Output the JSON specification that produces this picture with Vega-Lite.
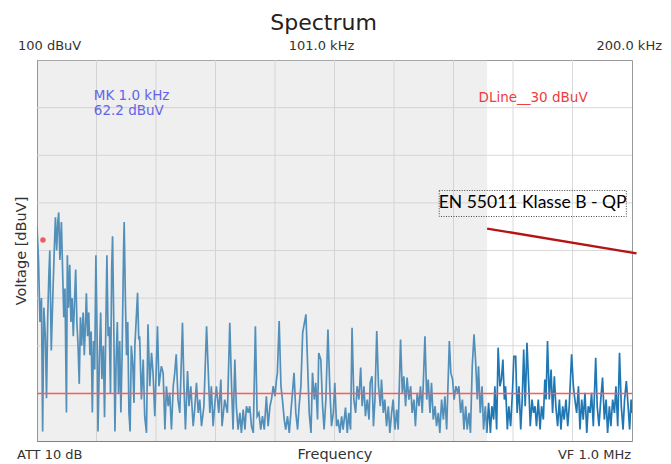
{
  "$schema": "https://vega.github.io/schema/vega-lite/v6.json",
  "width": 595,
  "height": 381,
  "autosize": {"type": "none"},
  "padding": {"left": 37, "top": 60, "right": 39, "bottom": 23},
  "background": "white",
  "config": {
    "view": {"stroke": "#9a9a9a", "strokeWidth": 1},
    "font": "DejaVu Sans"
  },
  "title": {
    "text": "Spectrum",
    "font": "DejaVu Sans",
    "fontSize": 22,
    "fontWeight": "normal",
    "color": "#222222",
    "anchor": "middle",
    "dx": -11,
    "dy": 22,
    "baseline": "alphabetic",
    "offset": 10
  },
  "datasets": {
    "trace": [
      {"f":1.0,"v":65},{"f":1.5,"v":58},{"f":2.0,"v":45},{"f":2.5,"v":50},{"f":2.9,"v":22},{"f":3.3,"v":48},{"f":3.8,"v":42},{"f":4.2,"v":29},{"f":4.6,"v":46},{"f":5.0,"v":55},
      {"f":5.3,"v":60},{"f":5.8,"v":39},{"f":6.3,"v":50},{"f":6.8,"v":60},{"f":7.2,"v":67},{"f":7.6,"v":60},{"f":8.0,"v":66},{"f":8.3,"v":68},{"f":8.7,"v":58},{"f":9.2,"v":66},
      {"f":9.6,"v":56},{"f":10.0,"v":46},{"f":10.4,"v":52},{"f":10.9,"v":26},{"f":11.2,"v":59},{"f":11.6,"v":48},{"f":12.0,"v":57},{"f":12.4,"v":45},{"f":12.8,"v":50},{"f":13.2,"v":42},
      {"f":13.6,"v":49},{"f":14.0,"v":56},{"f":14.4,"v":45},{"f":14.8,"v":40},{"f":15.2,"v":32},{"f":15.6,"v":46},{"f":16.0,"v":40},{"f":16.5,"v":47},{"f":16.9,"v":38},{"f":17.3,"v":45},
      {"f":17.6,"v":51},{"f":18.0,"v":42},{"f":18.4,"v":47},{"f":18.8,"v":38},{"f":19.2,"v":43},{"f":19.6,"v":26},{"f":20.0,"v":41},{"f":20.4,"v":35},{"f":20.8,"v":59},{"f":21.2,"v":42},
      {"f":21.5,"v":22},{"f":22.0,"v":38},{"f":22.4,"v":47},{"f":22.8,"v":33},{"f":23.3,"v":40},{"f":23.7,"v":25},{"f":24.0,"v":38},{"f":24.5,"v":59},{"f":24.9,"v":42},{"f":25.3,"v":44},
      {"f":25.7,"v":30},{"f":26.1,"v":56},{"f":26.4,"v":63},{"f":26.8,"v":45},{"f":27.2,"v":22},{"f":27.6,"v":37},{"f":28.0,"v":45},{"f":28.4,"v":30},{"f":28.8,"v":41},{"f":29.2,"v":26},
      {"f":29.6,"v":38},{"f":30.1,"v":60},{"f":30.3,"v":66},{"f":30.7,"v":50},{"f":31.1,"v":38},{"f":31.5,"v":45},{"f":31.9,"v":26},{"f":32.3,"v":22},{"f":32.7,"v":40},{"f":33.2,"v":36},
      {"f":33.6,"v":28},
      {"f":33.9,"v":40},{"f":34.8,"v":51.1},{"f":35.2,"v":41.3},{"f":35.5,"v":42},{"f":36.1,"v":28.7},{"f":36.7,"v":37.1},{"f":37.2,"v":25.2},{"f":37.8,"v":21.7},{"f":38.3,"v":44.5},{"f":38.9,"v":31.5},
      {"f":39.5,"v":38.5},{"f":40.0,"v":34.3},{"f":40.6,"v":25.2},{"f":41.5,"v":44.1},{"f":42.0,"v":31.5},{"f":42.8,"v":35.7},{"f":43.4,"v":34.3},{"f":44.0,"v":22.4},{"f":44.5,"v":31.5},{"f":45.1,"v":27.3},
      {"f":45.6,"v":30.1},{"f":46.2,"v":22.4},{"f":46.8,"v":31.5},{"f":47.3,"v":34.3},{"f":47.8,"v":38.2},{"f":48.4,"v":28.7},{"f":49.0,"v":25.9},{"f":49.9,"v":44.8},{"f":50.4,"v":31.5},{"f":50.9,"v":22.4},
      {"f":51.6,"v":34.7},{"f":52.1,"v":27.3},{"f":52.7,"v":31.5},{"f":53.5,"v":23.1},{"f":54.0,"v":26.6},{"f":54.6,"v":32.2},{"f":55.2,"v":25.9},{"f":55.7,"v":28.7},{"f":56.3,"v":23.1},{"f":57.1,"v":27.3},
      {"f":58.0,"v":44.1},{"f":58.5,"v":35.7},{"f":59.1,"v":25.9},{"f":59.6,"v":31.5},{"f":60.2,"v":23.1},{"f":60.8,"v":28.0},{"f":61.3,"v":31.5},{"f":62.1,"v":25.9},{"f":62.8,"v":32.9},{"f":63.2,"v":23.1},
      {"f":64.1,"v":28.7},{"f":65.0,"v":25.9},{"f":65.8,"v":44.8},{"f":66.4,"v":31.5},{"f":66.9,"v":22.4},
      {"f":67.5,"v":37.1},{"f":68.0,"v":27.3},{"f":68.6,"v":22.4},{"f":69.2,"v":25.9},{"f":69.7,"v":21.7},{"f":70.3,"v":26.6},{"f":70.9,"v":22.4},{"f":71.4,"v":27.3},{"f":72.0,"v":25.9},{"f":72.5,"v":27.3},
      {"f":73.1,"v":23.1},{"f":73.7,"v":21.7},{"f":74.4,"v":44.1},{"f":75.0,"v":25.2},{"f":75.6,"v":25.9},{"f":76.2,"v":22.4},{"f":76.8,"v":25.2},{"f":77.4,"v":22.4},{"f":78.1,"v":29.4},{"f":78.7,"v":23.1},
      {"f":79.3,"v":27.3},{"f":79.8,"v":28.7},{"f":80.4,"v":31.5},{"f":81.0,"v":29.4},{"f":81.5,"v":32.9},{"f":81.8,"v":34.3},{"f":82.4,"v":45.2},{"f":83.0,"v":31.5},{"f":83.5,"v":28.7},{"f":84.1,"v":24.5},
      {"f":84.6,"v":22.4},{"f":85.2,"v":25.2},{"f":85.8,"v":21.7},{"f":86.5,"v":27.3},{"f":87.4,"v":34.3},{"f":88.0,"v":25.9},{"f":88.6,"v":22.4},{"f":89.1,"v":27.3},{"f":89.7,"v":31.5},{"f":90.3,"v":42.7},
      {"f":90.7,"v":44.1},{"f":91.4,"v":46.6},{"f":91.9,"v":37.1},{"f":92.5,"v":25.9},{"f":93.1,"v":21.7},{"f":93.6,"v":34.3},{"f":94.2,"v":28.7},{"f":94.7,"v":32.2},{"f":95.3,"v":24.5},{"f":95.7,"v":38.5},
      {"f":96.4,"v":37.1},{"f":97.0,"v":27.3},{"f":97.5,"v":22.4},{"f":98.1,"v":28.7},{"f":98.8,"v":43.4},{"f":99.4,"v":31.5},{"f":100.0,"v":23.1},{"f":100.6,"v":25.9},
      {"f":101.1,"v":32.2},{"f":101.7,"v":23.1},{"f":102.2,"v":24.5},{"f":102.8,"v":21.7},{"f":103.4,"v":25.2},{"f":103.9,"v":22.4},{"f":104.7,"v":27.0},{"f":105.3,"v":21.7},{"f":105.8,"v":25.9},{"f":106.4,"v":22.4},
      {"f":106.9,"v":43.8},{"f":107.5,"v":28.7},{"f":108.1,"v":25.9},{"f":108.6,"v":31.5},{"f":109.2,"v":28.7},{"f":109.8,"v":35.4},{"f":110.3,"v":27.3},{"f":110.9,"v":31.5},{"f":111.4,"v":25.2},{"f":112.0,"v":28.7},
      {"f":112.6,"v":24.5},{"f":113.0,"v":32.2},{"f":113.6,"v":33.6},{"f":114.1,"v":23.1},{"f":114.6,"v":28.7},{"f":115.2,"v":43.1},{"f":115.8,"v":31.5},{"f":116.4,"v":27.3},{"f":116.8,"v":32.9},{"f":117.4,"v":25.9},
      {"f":117.9,"v":28.7},{"f":118.5,"v":23.1},{"f":119.1,"v":27.3},{"f":119.6,"v":21.7},{"f":120.2,"v":25.9},{"f":120.7,"v":28.7},{"f":121.3,"v":22.4},{"f":121.9,"v":26.6},{"f":122.4,"v":22.4},{"f":123.2,"v":41.3},
      {"f":123.8,"v":30.1},{"f":124.3,"v":33.6},{"f":124.9,"v":27.3},{"f":125.4,"v":33.3},{"f":126.0,"v":28.7},{"f":126.6,"v":31.5},{"f":127.1,"v":25.9},{"f":127.7,"v":28.7},{"f":128.2,"v":23.1},{"f":128.8,"v":30.1},
      {"f":129.4,"v":27.3},{"f":129.9,"v":31.5},{"f":130.5,"v":25.9},{"f":131.4,"v":42.0},{"f":132.0,"v":28.7},{"f":132.5,"v":32.9},{"f":133.1,"v":25.9},{"f":133.6,"v":32.2},{"f":134.2,"v":24.5},
      {"f":134.8,"v":27.3},{"f":135.3,"v":23.1},{"f":135.9,"v":25.9},{"f":136.4,"v":21.7},{"f":137.0,"v":28.7},{"f":137.6,"v":24.5},{"f":138.1,"v":29.4},{"f":138.7,"v":22.4},{"f":139.6,"v":41.0},{"f":140.1,"v":34.3},
      {"f":140.7,"v":32.9},{"f":141.2,"v":28.7},{"f":141.8,"v":31.5},{"f":142.4,"v":30.1},{"f":142.8,"v":31.5},{"f":143.4,"v":25.9},{"f":144.0,"v":28.7},{"f":144.5,"v":22.4},{"f":145.1,"v":27.3},{"f":145.6,"v":22.4},
      {"f":146.2,"v":25.9},{"f":146.7,"v":21.7},{"f":147.3,"v":35.7},{"f":147.9,"v":42.4},{"f":148.4,"v":37.1},{"f":149.0,"v":28.7},{"f":149.4,"v":35.7},{"f":150.0,"v":25.9},{"f":150.6,"v":31.5},{"f":151.1,"v":22.4},
      {"f":151.7,"v":27.3},{"f":152.2,"v":21.7},{"f":152.8,"v":28.0},{"f":153.4,"v":21.7},{"f":153.9,"v":27.3},{"f":154.5,"v":24.5},{"f":154.9,"v":31.5},{"f":155.5,"v":22.4},{"f":156.0,"v":39.6},{"f":156.6,"v":31.5},
      {"f":157.1,"v":32.9},{"f":157.6,"v":37.1},{"f":158.1,"v":28.7},{"f":158.5,"v":31.5},{"f":159.1,"v":22.4},{"f":159.6,"v":27.3},{"f":160.2,"v":23.1},{"f":160.8,"v":30.1},{"f":161.3,"v":37.8},{"f":161.9,"v":37.8},
      {"f":162.4,"v":25.9},{"f":163.0,"v":31.5},{"f":163.6,"v":22.4},{"f":164.1,"v":28.7},{"f":164.6,"v":39.2},{"f":165.1,"v":27.3},{"f":165.7,"v":40.6},{"f":166.3,"v":31.5},{"f":166.8,"v":23.1},{"f":167.4,"v":28.7},
      {"f":167.9,"v":25.9},
      {"f":168.4,"v":27.3},{"f":168.9,"v":23.1},{"f":169.5,"v":28.7},{"f":170.1,"v":22.4},{"f":170.6,"v":27.3},{"f":171.2,"v":24.5},{"f":171.7,"v":32.9},{"f":172.1,"v":28.7},{"f":172.6,"v":41.0},{"f":173.2,"v":28.7},
      {"f":173.8,"v":35.0},{"f":174.3,"v":25.9},{"f":174.9,"v":33.6},{"f":175.4,"v":27.3},{"f":176.0,"v":23.1},{"f":176.6,"v":28.7},{"f":177.1,"v":22.4},{"f":177.7,"v":27.3},{"f":178.2,"v":24.5},{"f":178.8,"v":28.7},
      {"f":179.4,"v":23.1},{"f":179.9,"v":27.3},{"f":180.7,"v":38.2},{"f":181.3,"v":31.5},{"f":181.8,"v":28.7},{"f":182.4,"v":25.9},{"f":183.0,"v":31.5},{"f":183.5,"v":22.4},{"f":184.1,"v":28.7},{"f":184.6,"v":24.5},
      {"f":185.2,"v":30.1},{"f":185.8,"v":21.7},{"f":186.3,"v":27.3},{"f":186.9,"v":25.9},{"f":187.4,"v":30.1},{"f":188.0,"v":23.1},{"f":188.8,"v":37.5},{"f":189.3,"v":27.3},{"f":189.9,"v":23.1},{"f":190.5,"v":28.7},
      {"f":191.1,"v":33.3},{"f":191.7,"v":24.5},{"f":192.3,"v":28.7},{"f":192.8,"v":21.7},{"f":193.4,"v":27.3},{"f":193.9,"v":23.1},{"f":194.5,"v":28.7},{"f":195.1,"v":25.9},{"f":195.6,"v":31.5},{"f":196.2,"v":23.1},
      {"f":196.8,"v":38.5},{"f":197.4,"v":27.3},{"f":198.0,"v":22.4},{"f":198.5,"v":28.7},{"f":199.1,"v":32.6},{"f":199.7,"v":27.3},{"f":200.2,"v":22.4},{"f":200.7,"v":28.7},{"f":201.0,"v":25.9}
    ],
    "gridV": [
      {"f":21,"v":20,"v2":100},{"f":41,"v":20,"v2":100},{"f":61,"v":20,"v2":100},{"f":81,"v":20,"v2":100},{"f":101,"v":20,"v2":100},
      {"f":121,"v":20,"v2":100},{"f":141,"v":20,"v2":100},{"f":161,"v":20,"v2":100},{"f":181,"v":20,"v2":100}
    ],
    "gridH": [
      {"v":30,"f":1,"f2":201},{"v":40,"f":1,"f2":201},{"v":50,"f":1,"f2":201},{"v":60,"f":1,"f2":201},
      {"v":70,"f":1,"f2":201},{"v":80,"f":1,"f2":201},{"v":90,"f":1,"f2":201}
    ],
    "shade": [{"f":1,"f2":152.3,"v":20,"v2":100}],
    "dline": [{"v":30,"f":1,"f2":201}],
    "marker": [{"f":3.0,"v":62.2}],
    "mkText": [
      {"f":20.1,"v":91.5,"label":"MK 1.0 kHz"},
      {"f":20.1,"v":88.4,"label":"62.2 dBuV"}
    ],
    "dlineText": [{"f":149.4,"v":91.1,"label":"DLine__30 dBuV"}],
    "topLeft": [{"f":1,"v":102.0,"label":"100 dBuV"}],
    "topCenter": [{"f":101,"v":102.0,"label":"101.0 kHz"}],
    "topRight": [{"f":201,"v":102.0,"label":"200.0 kHz"}],
    "bottomLeft": [{"f":1,"v":16.3,"label":"ATT 10 dB"}],
    "bottomRight": [{"f":201,"v":16.3,"label":"VF 1.0 MHz"}],
    "limit": [{"f":152.3,"v":64.6},{"f":202.5,"v":59.4}],
    "box": [{"f":136.2,"f2":199.1,"v":67.14,"v2":72.6}],
    "boxText": [{"f":167.6,"v":69.9,"label":"EN 55011 Klasse B - QP"}]
  },
  "encoding": {
    "x": {
      "field": "f",
      "type": "quantitative",
      "scale": {"domain": [1, 201], "nice": false, "zero": false},
      "axis": {
        "title": "Frequency",
        "labels": false,
        "ticks": false,
        "grid": false,
        "domain": true,
        "domainColor": "#808080",
        "titleFont": "DejaVu Sans",
        "titleFontSize": 14.5,
        "titleFontWeight": "normal",
        "titleColor": "#333333",
        "titlePadding": 6
      }
    },
    "y": {
      "field": "v",
      "type": "quantitative",
      "scale": {"domain": [20, 100], "nice": false, "zero": false},
      "axis": {
        "title": "Voltage [dBuV]",
        "labels": false,
        "ticks": false,
        "grid": false,
        "domain": true,
        "domainColor": "#808080",
        "titleFont": "DejaVu Sans",
        "titleFontSize": 14.5,
        "titleFontWeight": "normal",
        "titleColor": "#333333",
        "titlePadding": 9
      }
    }
  },
  "layer": [
    {
      "data": {"name": "gridV"},
      "mark": {"type": "rule", "color": "#d9d9d9", "strokeWidth": 1},
      "encoding": {"y2": {"field": "v2"}}
    },
    {
      "data": {"name": "gridH"},
      "mark": {"type": "rule", "color": "#d9d9d9", "strokeWidth": 1},
      "encoding": {"x2": {"field": "f2"}}
    },
    {
      "data": {"name": "trace"},
      "mark": {"type": "line", "color": "#1f77b4", "strokeWidth": 1.7, "clip": true},
      "encoding": {}
    },
    {
      "data": {"name": "shade"},
      "mark": {"type": "rect", "color": "#c9c9c9", "opacity": 0.3},
      "encoding": {"x2": {"field": "f2"}, "y2": {"field": "v2"}}
    },
    {
      "data": {"name": "dline"},
      "mark": {"type": "rule", "color": "#ff5a5a", "strokeWidth": 1.5},
      "encoding": {"x2": {"field": "f2"}}
    },
    {
      "data": {"name": "marker"},
      "mark": {"type": "point", "filled": true, "color": "#ee4b4b", "size": 30, "opacity": 0.9},
      "encoding": {}
    },
    {
      "data": {"name": "mkText"},
      "mark": {"type": "text", "align": "left", "baseline": "alphabetic", "font": "DejaVu Sans", "fontSize": 13.5, "color": "#6464e6"},
      "encoding": {"text": {"field": "label"}}
    },
    {
      "data": {"name": "dlineText"},
      "mark": {"type": "text", "align": "left", "baseline": "alphabetic", "font": "DejaVu Sans", "fontSize": 13.5, "color": "#f03c3c"},
      "encoding": {"text": {"field": "label"}}
    },
    {
      "data": {"name": "topLeft"},
      "mark": {"type": "text", "align": "left", "baseline": "alphabetic", "dx": -19, "font": "DejaVu Sans", "fontSize": 13, "color": "#333333"},
      "encoding": {"text": {"field": "label"}}
    },
    {
      "data": {"name": "topCenter"},
      "mark": {"type": "text", "align": "center", "baseline": "alphabetic", "dx": -13, "font": "DejaVu Sans", "fontSize": 13, "color": "#333333"},
      "encoding": {"text": {"field": "label"}}
    },
    {
      "data": {"name": "topRight"},
      "mark": {"type": "text", "align": "right", "baseline": "alphabetic", "dx": 30, "font": "DejaVu Sans", "fontSize": 13, "color": "#333333"},
      "encoding": {"text": {"field": "label"}}
    },
    {
      "data": {"name": "bottomLeft"},
      "mark": {"type": "text", "align": "left", "baseline": "alphabetic", "dx": -20, "font": "DejaVu Sans", "fontSize": 13, "color": "#333333"},
      "encoding": {"text": {"field": "label"}}
    },
    {
      "data": {"name": "bottomRight"},
      "mark": {"type": "text", "align": "right", "baseline": "alphabetic", "dx": -1, "font": "DejaVu Sans", "fontSize": 13, "color": "#333333"},
      "encoding": {"text": {"field": "label"}}
    },
    {
      "data": {"name": "limit"},
      "mark": {"type": "line", "color": "#b41414", "strokeWidth": 2.4, "clip": false},
      "encoding": {}
    },
    {
      "data": {"name": "box"},
      "mark": {"type": "rect", "fill": null, "fillOpacity": 0, "stroke": "#444444", "strokeWidth": 1, "strokeDash": [1, 1.5]},
      "encoding": {"x2": {"field": "f2"}, "y2": {"field": "v2"}}
    },
    {
      "data": {"name": "boxText"},
      "mark": {"type": "text", "align": "center", "baseline": "middle", "font": "Lato", "fontSize": 17.5, "color": "#000000"},
      "encoding": {"text": {"field": "label"}}
    }
  ]
}
